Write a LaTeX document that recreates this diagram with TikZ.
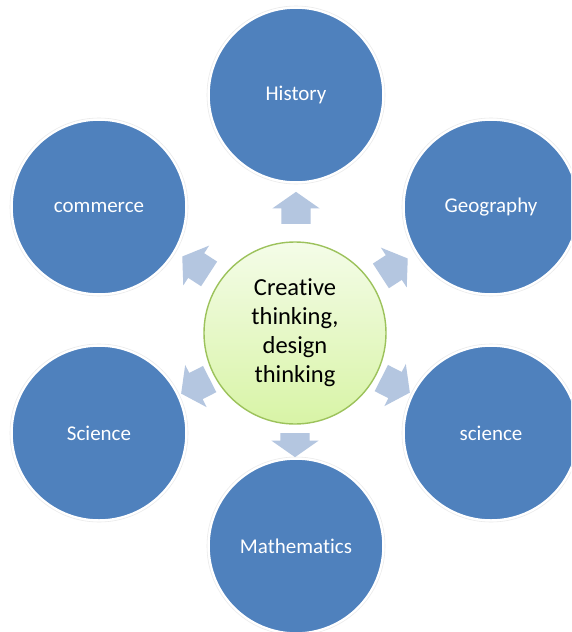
\documentclass[tikz,border=0pt]{standalone}
\usepackage{fontspec}
\setmainfont[Ligatures={NoCommon,NoContextual}]{Carlito}
\usetikzlibrary{shapes.arrows}
\definecolor{outerblue}{HTML}{4F81BD}
\definecolor{arrowblue}{HTML}{B4C6E0}
\definecolor{centertop}{HTML}{F4FCE8}
\definecolor{centerbot}{HTML}{D8F4A6}
\definecolor{centerline}{HTML}{9CC25B}
\tikzset{
  topic/.style={circle, fill=outerblue, draw=white, line width=1.5pt, minimum size=174pt, inner sep=0pt,
    text=white, font=\fontsize{21}{24}\selectfont},
  halo/.style={draw=black!8, line width=0.6pt},
  hub/.style={circle, top color=centertop, bottom color=centerbot, draw=centerline, line width=1.4pt,
    minimum size=182pt, inner sep=0pt, align=center, font=\fontsize{24.5}{29}\selectfont},
  blockarrow/.style={single arrow, fill=arrowblue, draw=none, inner sep=0pt,
    single arrow head extend=9pt, single arrow tip angle=110, minimum height=32pt}
}
\newcommand{\shaftbox}{\rule{0pt}{14.5pt}\rule[-14.5pt]{0pt}{14.5pt}}
\begin{document}
\begin{tikzpicture}[x=1pt,y=-1pt]
\useasboundingbox (0,0) rectangle (571,632);
\clip (0,0) rectangle (571,632);
\fill[white] (0,0) rectangle (571,632);
% outer topics
\foreach \p in {(296,95),(491,207),(491,433),(296,546),(99,433),(99,207)}
  \draw[halo] \p circle (89pt);
\node[topic] (hist) at (296,95) {History};
\node[topic] (geo) at (491,207) {Geography};
\node[topic] (sci2) at (491,433) {science};
\node[topic] (math) at (296,546) {Mathema\kern0pt tics};
\node[topic] (sci1) at (99,433) {Science};
\node[topic] (comm) at (99,207) {commerce};
% hub
\node[hub] (hub) at (295,333) {Crea\kern0pt tive\\thinking,\\design\\thinking};
% arrows
\node[blockarrow, rotate=90] (aup) at (296,213) {\shaftbox};
\node[blockarrow, rotate=-90, minimum height=24pt] (adown) at (295,440) {\shaftbox};
\node[blockarrow, rotate=33] (aur) at (390,270) {\shaftbox};
\node[blockarrow, rotate=-27] (alr) at (391,383) {\shaftbox};
\node[blockarrow, rotate=147] (aul) at (200,268) {\shaftbox};
\node[blockarrow, rotate=207] (all) at (200,384) {\shaftbox};
\end{tikzpicture}
\end{document}
